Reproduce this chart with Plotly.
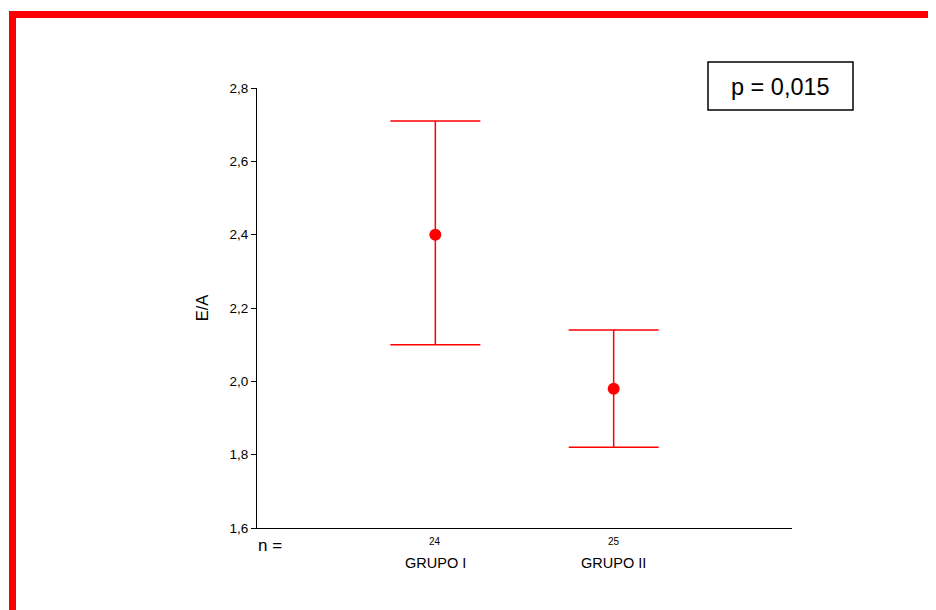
import plotly.graph_objects as go

groups = ["GRUPO I", "GRUPO II"]
counts = ["24", "25"]
means = [2.40, 1.98]
upper = [2.71, 2.14]
lower = [2.10, 1.82]
y_ticks = [1.6, 1.8, 2.0, 2.2, 2.4, 2.6, 2.8]
p_text = "p = 0,015"

xpos = list(range(1, len(groups) + 1))
err_plus = [u - m for u, m in zip(upper, means)]
err_minus = [m - l for m, l in zip(means, lower)]

# page has an 8px body margin; figure sized to fit the viewport
OFF = 8
W, H = 936 - OFF, 610 - OFF
PL, PT, PR, PB = 257, 88, 792, 528  # plot area in page pixels
L, T = PL - OFF, PT - OFF
R, B = W - (PR - OFF), H - (PB - OFF)
pw, ph = PR - PL, PB - PT

def px(x):
    return (x - PL) / pw

def py(y):
    return (PB - y) / ph

fig = go.Figure()
fig.add_trace(go.Scatter(
    x=xpos, y=means, mode="markers",
    marker=dict(color="#ff0000", size=12),
    error_y=dict(type="data", symmetric=False, array=err_plus, arrayminus=err_minus,
                 color="#ff0000", thickness=1.5, width=45),
    showlegend=False, hoverinfo="skip",
))

font = "Liberation Sans, Arial, sans-serif"
fig.update_layout(
    width=W, height=H,
    margin=dict(l=L, r=R, t=T, b=B),
    paper_bgcolor="white", plot_bgcolor="white",
    separators=",.",
    font=dict(family=font, color="black", size=13),
    xaxis=dict(range=[0, len(groups) + 1], showgrid=False, zeroline=False,
               showline=True, linecolor="black", linewidth=1, showticklabels=False,
               ticks=""),
    yaxis=dict(range=[1.6, 2.8], tickvals=y_ticks, tickformat=".1f",
               showgrid=False, zeroline=False, showline=True, linecolor="black",
               linewidth=1, ticks="outside", ticklen=5, tickcolor="black",
               tickfont=dict(size=13.5),
               title=dict(text="E/A", font=dict(size=16.5), standoff=16)),
)

annotations = []
for x, g, c in zip(xpos, groups, counts):
    annotations.append(dict(x=x, xref="x", y=py(541), yref="paper", text=c,
                            showarrow=False, font=dict(size=10), yanchor="middle"))
    annotations.append(dict(x=x, xref="x", y=py(563), yref="paper", text=g,
                            showarrow=False, font=dict(size=14.5), yanchor="middle"))
annotations.append(dict(x=px(256), xref="paper", y=py(545), yref="paper", text="n =",
                        showarrow=False, font=dict(size=17), xanchor="left", yanchor="middle"))
annotations.append(dict(x=px(780.5), xref="paper", y=py(87), yref="paper", text=p_text,
                        showarrow=False, font=dict(size=23.5), xanchor="center", yanchor="middle"))
fig.update_layout(annotations=annotations)

shapes = [
    dict(type="rect", xref="paper", yref="paper",
         x0=px(708), x1=px(853), y0=py(110), y1=py(62),
         line=dict(color="black", width=1.5), fillcolor="rgba(0,0,0,0)"),
    dict(type="rect", xref="paper", yref="paper",
         x0=px(12.5), x1=px(1000), y0=py(700), y1=py(14.5),
         line=dict(color="#ff0000", width=7), fillcolor="rgba(0,0,0,0)"),
]
fig.update_layout(shapes=shapes)

fig.write_html("out.html")
